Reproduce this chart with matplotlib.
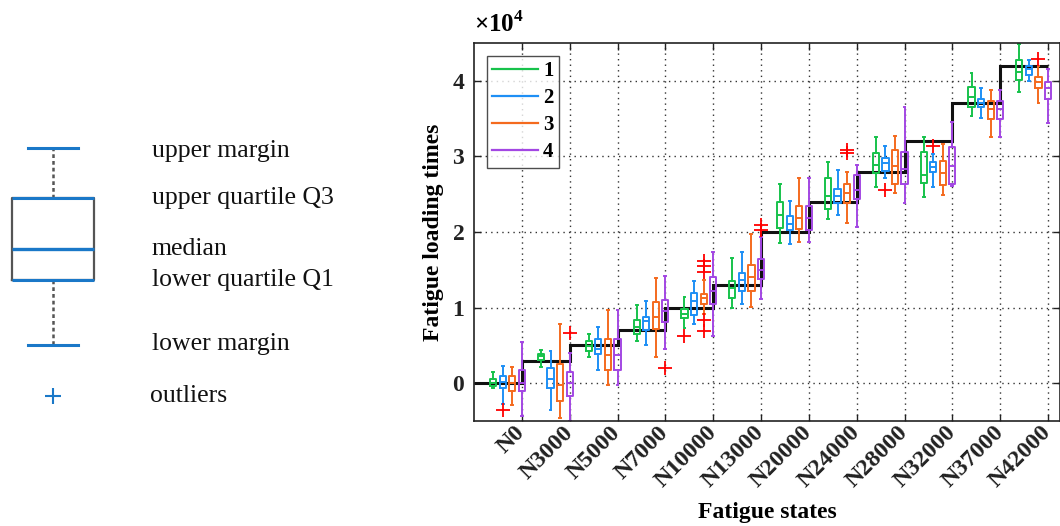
import numpy as np
import matplotlib
matplotlib.use("Agg")
import matplotlib.pyplot as plt
from matplotlib.transforms import ScaledTranslation

plt.rcParams['font.family'] = ['Liberation Serif', 'DejaVu Serif']
plt.rcParams['mathtext.fontset'] = 'custom'
plt.rcParams['mathtext.rm'] = 'Liberation Serif:bold'
plt.rcParams['mathtext.bf'] = 'Liberation Serif:bold'

# fatigue states and the staircase of nominal loading times (x1e4)
states = ['N0', 'N3000', 'N5000', 'N7000', 'N10000', 'N13000', 'N20000',
          'N24000', 'N28000', 'N32000', 'N37000', 'N42000']
nominal = [0, 0.3, 0.5, 0.7, 1.0, 1.3, 2.0, 2.4, 2.8, 3.2, 3.7, 4.2]
series = ['1', '2', '3', '4']

# box statistics per series (x1e4): lower whisker, Q1, median, Q3, upper whisker
s1_lo = [-0.07, 0.22, 0.34, 0.56, 0.73, 1.00, 1.85, 2.17, 2.59, 2.46, 3.53, 3.85]
s1_q1 = [-0.04, 0.31, 0.43, 0.65, 0.86, 1.13, 2.05, 2.31, 2.78, 2.65, 3.65, 4.01]
s1_md = [0.00, 0.36, 0.49, 0.74, 0.92, 1.26, 2.22, 2.48, 2.89, 2.76, 3.78, 4.11]
s1_q3 = [0.05, 0.39, 0.56, 0.84, 0.98, 1.35, 2.40, 2.71, 3.04, 3.06, 3.92, 4.27]
s1_hi = [0.15, 0.44, 0.65, 1.03, 1.14, 1.66, 2.63, 2.92, 3.26, 3.26, 4.10, 4.49]
s1_out = [[], [], [], [], [0.63], [], [], [], [], [], [], []]

s2_lo = [-0.27, -0.36, 0.17, 0.51, 0.78, 1.05, 1.84, 2.23, 2.71, 2.59, 3.51, 4.00]
s2_q1 = [-0.07, -0.06, 0.38, 0.70, 0.90, 1.22, 2.02, 2.39, 2.81, 2.79, 3.65, 4.08]
s2_md = [0.01, 0.06, 0.45, 0.82, 1.09, 1.37, 2.11, 2.48, 2.91, 2.86, 3.70, 4.15]
s2_q3 = [0.09, 0.20, 0.59, 0.87, 1.19, 1.46, 2.21, 2.57, 2.98, 2.92, 3.76, 4.20]
s2_hi = [0.23, 0.43, 0.75, 1.09, 1.35, 1.74, 2.41, 2.82, 3.14, 3.03, 3.90, 4.27]
s2_out = [[-0.36], [], [], [], [], [], [], [], [2.55], [3.14], [], []]

s3_lo = [-0.29, -0.46, -0.02, 0.34, 0.91, 1.01, 1.87, 2.12, 2.51, 2.49, 3.26, 3.70]
s3_q1 = [-0.10, -0.23, 0.17, 0.72, 1.05, 1.22, 2.04, 2.38, 2.64, 2.62, 3.50, 3.90]
s3_md = [0.00, -0.03, 0.37, 0.87, 1.13, 1.41, 2.18, 2.51, 2.87, 2.78, 3.63, 3.98]
s3_q3 = [0.10, 0.25, 0.59, 1.07, 1.18, 1.56, 2.34, 2.63, 3.08, 2.94, 3.73, 4.05]
s3_hi = [0.22, 0.78, 0.97, 1.39, 1.36, 1.98, 2.71, 2.79, 3.27, 3.16, 3.88, 4.19]
s3_out = [[], [], [], [], [1.61, 1.55, 1.47, 0.84, 0.69], [], [], [3.09, 3.04],
          [], [], [], [4.29]]

s4_lo = [-0.44, -0.50, -0.02, 0.45, 0.63, 1.11, 1.87, 2.06, 2.39, 2.61, 3.26, 3.44]
s4_q1 = [-0.10, -0.17, 0.17, 0.81, 1.05, 1.38, 2.03, 2.43, 2.63, 2.63, 3.50, 3.76]
s4_md = [0.00, 0.00, 0.37, 0.96, 1.22, 1.50, 2.18, 2.56, 2.83, 2.87, 3.63, 3.90]
s4_q3 = [0.17, 0.15, 0.59, 1.10, 1.41, 1.64, 2.34, 2.75, 3.06, 3.12, 3.73, 3.99]
s4_hi = [0.55, 0.40, 0.97, 1.42, 1.74, 1.93, 2.71, 2.89, 3.65, 3.46, 3.88, 4.15]
s4_out = [[], [0.67], [], [0.20], [], [2.09, 2.03], [], [], [], [], [], []]

colors = ['#17c24b', '#1e8ff5', '#f46a1e', '#a347e3']

# schematic box on the left (arbitrary units)
demo_hi, demo_q3, demo_med, demo_q1, demo_lo, demo_out = 378, 328, 277, 246, 181, 130
demo_labels = ['upper margin', 'upper quartile Q3', 'median',
               'lower quartile Q1', 'lower margin', 'outliers']

fig = plt.figure(figsize=(10.6, 5.26), dpi=100)

# ---- schematic ----
lax = fig.add_axes([0, 0, 445 / 1060, 1])
lax.set_xlim(0, 445)
lax.set_ylim(0, 526)
lax.axis('off')
blue = '#1a78c8'
demo = [dict(whislo=demo_lo, q1=demo_q1, med=demo_med, q3=demo_q3,
             whishi=demo_hi, fliers=[demo_out])]
lax.bxp(demo, positions=[53], widths=82, capwidths=50,
        boxprops=dict(color='#555555', lw=1.6),
        whiskerprops=dict(color='#555555', lw=1.8, ls=(0, (1.5, 1.2))),
        capprops=dict(color=blue, lw=2.2),
        medianprops=dict(color=blue, lw=2.4),
        flierprops=dict(marker='+', markeredgecolor=blue, markersize=11,
                        markeredgewidth=1.5))
lax.hlines([demo_q3, demo_q1], 12, 94, color=blue, lw=2.2)
for lab, yv in zip(demo_labels, [demo_hi - 3, demo_q3, demo_med, demo_q1,
                                 demo_lo + 1, demo_out]):
    lax.text(152 if lab != 'outliers' else 150, yv, lab, fontsize=18.5,
             va='center', ha='left', color='#111111')

# ---- main chart ----
ax = fig.add_axes([474 / 1060, 105 / 526, 586 / 1060, 378 / 526])
n = len(states)
ticks = np.arange(1, n + 1)

ax.stairs(nominal, np.arange(0, n + 1), baseline=None, color='#111111', lw=2.2,
          zorder=2)

all_stats = [
    (s1_lo, s1_q1, s1_md, s1_q3, s1_hi, s1_out),
    (s2_lo, s2_q1, s2_md, s2_q3, s2_hi, s2_out),
    (s3_lo, s3_q1, s3_md, s3_q3, s3_hi, s3_out),
    (s4_lo, s4_q1, s4_md, s4_q3, s4_hi, s4_out),
]
for j, (lo, q1, md, q3, hi, out) in enumerate(all_stats):
    stats = [dict(whislo=lo[i], q1=q1[i], med=md[i], q3=q3[i], whishi=hi[i],
                  fliers=out[i]) for i in range(n)]
    c = colors[j]
    ax.bxp(stats, positions=ticks - 0.6 + 0.2 * j, widths=0.13, capwidths=0.04,
           manage_ticks=False,
           boxprops=dict(color=c, lw=1.4),
           whiskerprops=dict(color=c, lw=1.4),
           capprops=dict(color=c, lw=1.4),
           medianprops=dict(color=c, lw=1.4),
           flierprops=dict(marker='+', markeredgecolor='red', markersize=10,
                           markeredgewidth=1.3))
    ax.plot([], [], color=c, lw=1.6, label=series[j])

ax.set_xlim(0, 12.25)
ax.set_ylim(-0.5, 4.5)
ax.set_xticks(ticks)
ax.set_xticklabels(states, rotation=45, ha='right', va='center',
                   rotation_mode='anchor', fontweight='bold', fontsize=17.5)
shift = ScaledTranslation(5 / 100, 0, fig.dpi_scale_trans)
for lbl in ax.get_xticklabels():
    lbl.set_transform(lbl.get_transform() + shift)
ax.set_yticks([0, 1, 2, 3, 4])
ax.set_yticklabels(['0', '1', '2', '3', '4'], fontweight='bold', fontsize=17)
ax.tick_params(direction='in', top=True, right=True, length=5, width=1,
               colors='#222222')
ax.tick_params(axis='y', pad=7)
ax.tick_params(axis='x', pad=6)
ax.grid(True, ls=(0, (1, 3)), color='#333333', lw=1)
ax.set_axisbelow(True)
for sp in ax.spines.values():
    sp.set_linewidth(1.2)
    sp.set_color('#222222')

ax.set_xlabel('Fatigue states', fontsize=17, fontweight='bold', va='top')
ax.xaxis.set_label_coords(0.5, -0.213)
ax.set_ylabel('Fatigue loading times', fontsize=17, fontweight='bold',
              labelpad=6)
ax.text(0.0, 1.015, '×10$^{4}$', transform=ax.transAxes,
        fontsize=18, ha='left', va='bottom', fontweight='bold')

leg = ax.legend(loc='upper left', bbox_to_anchor=(0.022, 0.966),
                borderaxespad=0, fancybox=False, edgecolor='#222222',
                handlelength=2.2, handletextpad=0.25, labelspacing=0.34,
                borderpad=0.25, prop=dict(weight='bold', size=15))
leg.get_frame().set_linewidth(1.0)

fig.savefig('out.png', dpi=100)
